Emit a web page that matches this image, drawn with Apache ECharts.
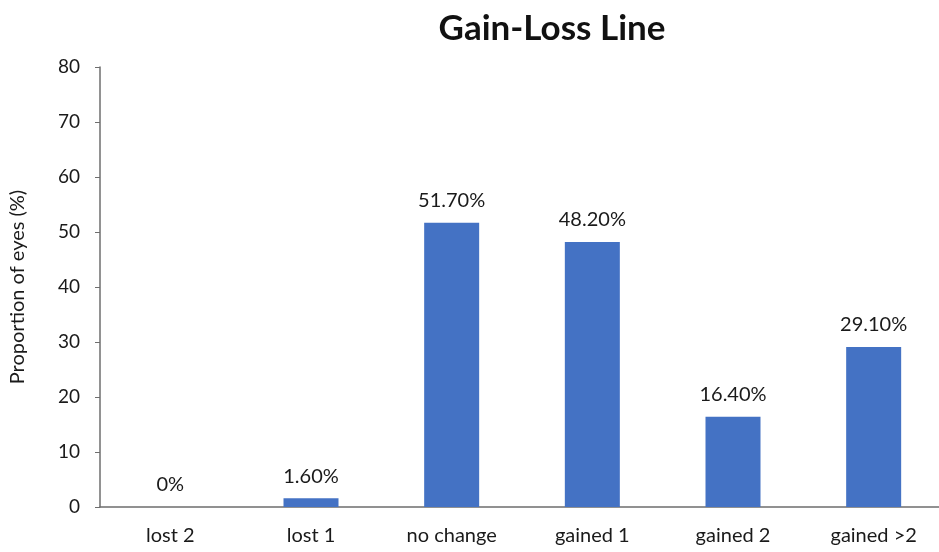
<!DOCTYPE html>
<html>
<head>
<meta charset="utf-8">
<script src="https://cdn.jsdelivr.net/npm/echarts@6/dist/echarts.min.js"></script>
<style>
  html, body { margin: 0; padding: 0; background: #fff; }
  #chart { width: 939px; height: 552px; }
</style>
</head>
<body>
<div id="chart"></div>
<script>
// Change categories and share of eyes in each
const categories = ['lost 2', 'lost 1', 'no change', 'gained 1', 'gained 2', 'gained >2'];
const proportions = [0, 1.6, 51.7, 48.2, 16.4, 29.1];
const valueLabels = ['0%', '1.60%', '51.70%', '48.20%', '16.40%', '29.10%'];
const yTicks = [0, 10, 20, 30, 40, 50, 60, 70, 80];

const FONT = 'Lato, "Open Sans", sans-serif';
const chart = echarts.init(document.getElementById('chart'));

chart.setOption({
  animation: false,
  backgroundColor: '#ffffff',
  title: {
    text: 'Gain-Loss Line',
    left: 547,
    textAlign: 'center',
    top: 6,
    textStyle: { fontFamily: FONT, fontSize: 35, fontWeight: 'bold', color: '#111' }
  },
  grid: { left: 100, right: -5, top: 67, bottom: 45, containLabel: false, outerBoundsMode: 'none' },
  xAxis: {
    type: 'category',
    data: categories,
    axisLine: { lineStyle: { color: '#6e6e6e', width: 1.5 } },
    axisTick: { show: false },
    axisLabel: { fontFamily: FONT, fontSize: 20, color: '#1a1a1a', margin: 19 }
  },
  yAxis: {
    type: 'value',
    min: yTicks[0],
    max: yTicks[yTicks.length - 1],
    interval: 10,
    name: 'Proportion of eyes (%)',
    nameLocation: 'middle',
    nameGap: 72,
    nameTextStyle: { fontFamily: FONT, fontSize: 20, color: '#1a1a1a' },
    axisLine: { show: true, lineStyle: { color: '#6e6e6e', width: 1.5 } },
    axisTick: { show: true, length: 5, lineStyle: { color: '#6e6e6e' } },
    splitLine: { show: false },
    axisLabel: { fontFamily: FONT, fontSize: 19, color: '#1a1a1a', margin: 20 }
  },
  series: [{
    type: 'bar',
    data: proportions,
    barWidth: 55,
    itemStyle: { color: '#4472C4' },
    label: {
      show: true,
      position: 'top',
      distance: 12,
      fontFamily: FONT,
      fontSize: 20,
      color: '#1a1a1a',
      formatter: p => valueLabels[p.dataIndex]
    }
  }]
});
</script>
</body>
</html>
